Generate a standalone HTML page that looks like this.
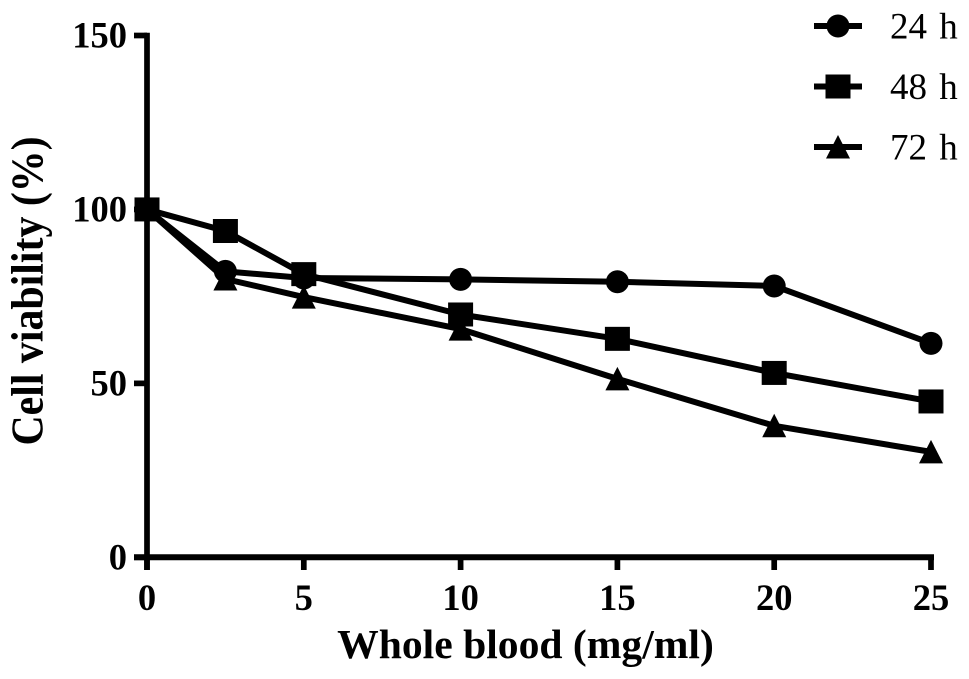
<!DOCTYPE html>
<html>
<head>
<meta charset="utf-8">
<style>
html,body{margin:0;padding:0;background:#fff;width:969px;height:679px;overflow:hidden}
svg{display:block}
text{font-family:"Liberation Serif",serif;fill:#000}
</style>
</head>
<body>
<svg id="chart" width="969" height="679" viewBox="0 0 969 679" xmlns="http://www.w3.org/2000/svg">
<text transform="translate(42.7,291) rotate(-90) scale(0.93,1)" text-anchor="middle" font-size="45" font-weight="bold">Cell viability (%)</text>
<text x="525.5" y="658" text-anchor="middle" font-size="41.6" font-weight="bold">Whole blood (mg/ml)</text>
</svg>
<script>
const xValues = [0, 2.5, 5, 10, 15, 20, 25];
const series24h = [100, 82.2, 80.3, 79.9, 79.2, 78, 61.5];
const series48h = [100, 93.8, 81.4, 69.8, 62.8, 53, 44.8];
const series72h = [100, 80, 74.8, 65.6, 51.3, 37.8, 30.3];
const xTicks = [0, 5, 10, 15, 20, 25];
const yTicks = [0, 50, 100, 150];
const legendLabels = ['24 h', '48 h', '72 h'];

const NS = 'http://www.w3.org/2000/svg';
const svg = document.getElementById('chart');
const X0 = 147, X1 = 931, Y0 = 557.3, Y1 = 35.5;
function sx(v) { return X0 + (v / 25) * (X1 - X0); }
function sy(v) { return Y0 - (v / 150) * (Y0 - Y1); }
function make(tag, attrs, parent) {
  const el = document.createElementNS(NS, tag);
  for (const k in attrs) el.setAttribute(k, attrs[k]);
  (parent || svg).appendChild(el);
  return el;
}
function drawMarker(kind, cx, cy, parent) {
  if (kind === 'circle') {
    return make('circle', { cx: cx, cy: cy, r: 11.5 }, parent);
  }
  if (kind === 'square') {
    return make('rect', { x: cx - 12.5, y: cy - 12, width: 25, height: 24 }, parent);
  }
  return make('polygon', { points: (cx) + ',' + (cy - 12) + ' ' + (cx + 12) + ',' + (cy + 11.5) + ' ' + (cx - 12) + ',' + (cy + 11.5) }, parent);
}

// axes
const axisY = make('line', { x1: X0, y1: Y1 - 2.8, x2: X0, y2: 570, stroke: '#000', 'stroke-width': 5.7 });


const axisX = make('line', { x1: 134, y1: Y0, x2: X1 + 3, y2: Y0, stroke: '#000', 'stroke-width': 6 });



yTicks.forEach(function (t) {
  const tick = make('line', { x1: 134, y1: sy(t), x2: X0, y2: sy(t), stroke: '#000', 'stroke-width': 5.7 });
  
  
  const label = make('text', { x: 127, y: sy(t) + 12.2, 'text-anchor': 'end', 'font-size': 36.5, 'font-weight': 'bold' });
  label.textContent = t;
  
  
});
xTicks.forEach(function (t) {
  const tick = make('line', { x1: sx(t), y1: Y0, x2: sx(t), y2: 570, stroke: '#000', 'stroke-width': 5.7 });
  
  
  const label = make('text', { x: sx(t), y: 610, 'text-anchor': 'middle', 'font-size': 36.5, 'font-weight': 'bold' });
  label.textContent = t;
  
  
});

// series
const seriesList = [
  { name: '24h', values: series24h, marker: 'circle' },
  { name: '48h', values: series48h, marker: 'square' },
  { name: '72h', values: series72h, marker: 'triangle' }
];
seriesList.forEach(function (s) {
  const g = make('g', {});
  
  
  const pts = s.values.map(function (v, i) { return sx(xValues[i]) + ',' + sy(v); }).join(' ');
  const line = make('polyline', { points: pts, fill: 'none', stroke: '#000', 'stroke-width': 6, 'stroke-linejoin': 'round' }, g);
  
  
  s.values.forEach(function (v, i) {
    const m = drawMarker(s.marker, sx(xValues[i]), sy(v), g);
    
    
  });
});

// legend
const legendKinds = ['circle', 'square', 'triangle'];
legendLabels.forEach(function (lab, i) {
  const cy = 26 + i * 60.5;
  const g = make('g', {});
  
  
  const ln = make('line', { x1: 814, y1: cy, x2: 862, y2: cy, stroke: '#000', 'stroke-width': 6 }, g);
  
  
  const mk = drawMarker(legendKinds[i], 838, cy, g);
  
  
  const tx = make('text', { x: 890, y: cy + 12.3, 'font-size': 37, 'word-spacing': 3 }, g);
  tx.textContent = lab;
  
  
});
</script>
</body>
</html>
